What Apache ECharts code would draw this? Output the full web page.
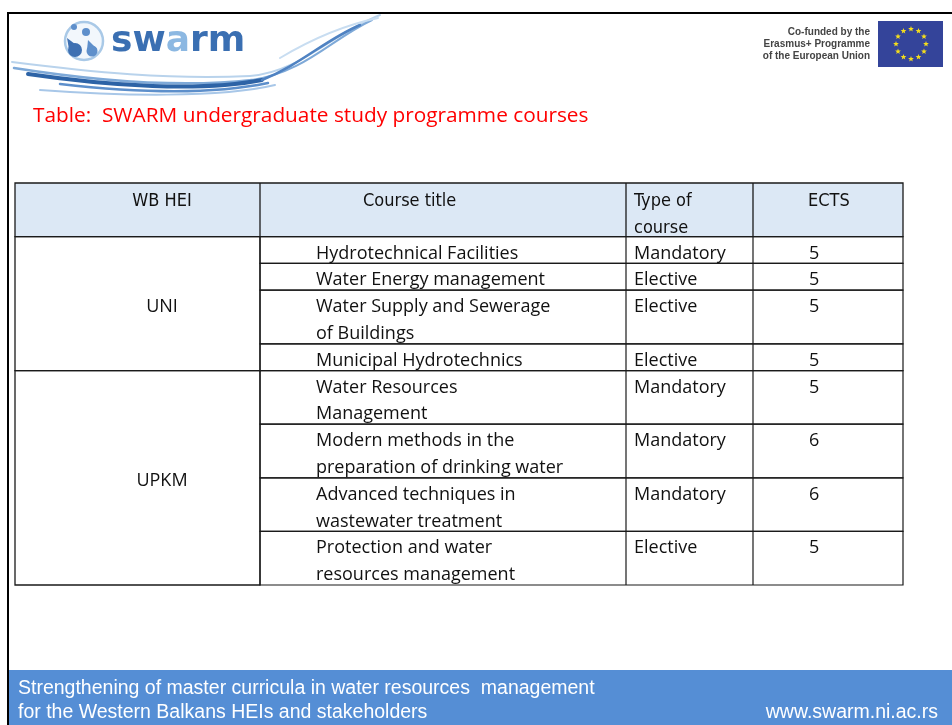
<!DOCTYPE html>
<html><head><meta charset="utf-8">
<script src="https://cdn.jsdelivr.net/npm/echarts@6/dist/echarts.min.js"></script>
<style>html,body{margin:0;padding:0;background:#fff}#c{width:952px;height:725px}</style>
</head><body><div id="c"></div>
<script>
// ---- data ----
const headers = ['WB HEI', 'Course title', 'Type of\ncourse', 'ECTS'];
const heiNames = ['UNI', 'UPKM'];
const courseHei = [0, 0, 0, 0, 1, 1, 1, 1];
const courseTitles = [
  'Hydrotechnical Facilities',
  'Water Energy management',
  'Water Supply and Sewerage\nof Buildings',
  'Municipal Hydrotechnics',
  'Water Resources\nManagement',
  'Modern methods in the\npreparation of drinking water',
  'Advanced techniques in\nwastewater treatment',
  'Protection and water\nresources management'
];
const courseTypes = ['Mandatory', 'Elective', 'Elective', 'Elective', 'Mandatory', 'Mandatory', 'Mandatory', 'Elective'];
const ectsValues = [5, 5, 5, 5, 5, 6, 6, 5];
const titleText = 'Table:  SWARM undergraduate study programme courses';
const footerLines = ['Strengthening of master curricula in water resources  management', 'for the Western Balkans HEIs and stakeholders'];
const footerUrl = 'www.swarm.ni.ac.rs';
const euText = 'Co-funded by the\nErasmus+ Programme\nof the European Union';

// ---- layout ----
const colEdges = [0, 245, 611, 738, 888];
const headTextX = [147, 348, 619, 793];
const bodyTextX = [147, 301, 619, 794];
const headerUnits = 2;
let acc = headerUnits;
const rowData = courseTitles.map((t, i) => {
  const u = t.split('\n').length;
  const r = [acc, acc + u, i];
  acc += u;
  return r;
});
const totalUnits = acc;
const groupData = [];
courseHei.forEach((h, i) => {
  const last = groupData[groupData.length - 1];
  if (last && last[2] === h) last[1] = rowData[i][1];
  else groupData.push([rowData[i][0], rowData[i][1], h]);
});

const LINE = '#1a1a1a';
const BODY_FONT = '18px "Open Sans", "Noto Sans", sans-serif';
const HEAD_FONT = '18px "Liberation Sans Narrow", "DejaVu Sans Condensed", sans-serif';
const FOOT_FONT = '19.5px "Liberation Sans", sans-serif';

function txt(x, y, text, font, align) {
  return { type: 'text', x: x, y: y, style: { text: text, font: font, fill: '#111', align: align || 'left', verticalAlign: 'middle' } };
}

function renderHeader(params, api) {
  const y0 = api.value(0), y1 = api.value(1);
  const tl = api.coord([colEdges[0], y0]), br = api.coord([colEdges[4], y1]);
  const ch = [{ type: 'rect', shape: { x: tl[0], y: tl[1], width: br[0] - tl[0], height: br[1] - tl[1] }, style: { fill: '#dce8f5', stroke: LINE, lineWidth: 1.3 } }];
  for (let c = 1; c < 4; c++) {
    const x = api.coord([colEdges[c], 0])[0];
    ch.push({ type: 'line', shape: { x1: x, y1: tl[1], x2: x, y2: br[1] }, style: { stroke: LINE, lineWidth: 1.3 } });
  }
  headers.forEach((h, c) => {
    h.split('\n').forEach((ln, k) => {
      const p = api.coord([headTextX[c], y0 + k + 0.68]);
      ch.push(txt(p[0], p[1], ln, HEAD_FONT, c === 0 ? 'center' : 'left'));
    });
  });
  return { type: 'group', children: ch };
}

function renderGroup(params, api) {
  const y0 = api.value(0), y1 = api.value(1), g = api.value(2);
  const tl = api.coord([colEdges[0], y0]), br = api.coord([colEdges[1], y1]);
  const mid = api.coord([bodyTextX[0], (y0 + y1) / 2 + 0.11]);
  return { type: 'group', children: [
    { type: 'rect', shape: { x: tl[0], y: tl[1], width: br[0] - tl[0], height: br[1] - tl[1] }, style: { fill: 'none', stroke: LINE, lineWidth: 1.3 } },
    txt(mid[0], mid[1], heiNames[g], BODY_FONT, 'center')
  ] };
}

function renderRow(params, api) {
  const y0 = api.value(0), y1 = api.value(1), i = api.value(2);
  const tl = api.coord([colEdges[1], y0]), br = api.coord([colEdges[4], y1]);
  const ch = [{ type: 'rect', shape: { x: tl[0], y: tl[1], width: br[0] - tl[0], height: br[1] - tl[1] }, style: { fill: 'none', stroke: LINE, lineWidth: 1.2 } }];
  for (let c = 2; c < 4; c++) {
    const x = api.coord([colEdges[c], 0])[0];
    ch.push({ type: 'line', shape: { x1: x, y1: tl[1], x2: x, y2: br[1] }, style: { stroke: LINE, lineWidth: 1.2 } });
  }
  courseTitles[i].split('\n').forEach((ln, k) => {
    const p = api.coord([bodyTextX[1], y0 + k + 0.63]);
    ch.push(txt(p[0], p[1], ln, BODY_FONT));
  });
  const pt = api.coord([bodyTextX[2], y0 + 0.63]);
  ch.push(txt(pt[0], pt[1], courseTypes[i], BODY_FONT));
  const pe = api.coord([bodyTextX[3], y0 + 0.63]);
  ch.push(txt(pe[0], pe[1], String(ectsValues[i]), BODY_FONT));
  return { type: 'group', children: ch };
}

// EU stars
const stars = [];
for (let s = 0; s < 12; s++) {
  const a = s / 12 * Math.PI * 2;
  const cx = 911 + 15 * Math.sin(a), cy = 44 - 15 * Math.cos(a);
  const pts = [];
  for (let k = 0; k < 10; k++) {
    const r = k % 2 === 0 ? 3 : 1.3;
    const b = k / 10 * Math.PI * 2;
    pts.push([cx + r * Math.sin(b), cy - r * Math.cos(b)]);
  }
  stars.push({ type: 'polygon', shape: { points: pts }, style: { fill: '#f4dd1c' } });
}

function bez(x1, y1, c1x, c1y, c2x, c2y, x2, y2, color, w) {
  return { type: 'bezierCurve', shape: { x1: x1, y1: y1, cpx1: c1x, cpy1: c1y, cpx2: c2x, cpy2: c2y, x2: x2, y2: y2 }, style: { stroke: color, lineWidth: w, fill: null, lineCap: 'round' } };
}

const graphics = [
  // slide border
  { type: 'line', shape: { x1: 7, y1: 13, x2: 952, y2: 13 }, style: { stroke: '#000', lineWidth: 2 } },
  { type: 'line', shape: { x1: 8, y1: 12, x2: 8, y2: 725 }, style: { stroke: '#000', lineWidth: 2 } },
  // footer
  { type: 'rect', shape: { x: 9, y: 670, width: 943, height: 55 }, style: { fill: '#558ed5' } },
  { type: 'text', x: 18, y: 689, style: { text: footerLines[0], font: FOOT_FONT, fill: '#fff', align: 'left', verticalAlign: 'middle' } },
  { type: 'text', x: 18, y: 713, style: { text: footerLines[1], font: FOOT_FONT, fill: '#fff', align: 'left', verticalAlign: 'middle' } },
  { type: 'text', x: 938, y: 713, style: { text: footerUrl, font: FOOT_FONT, fill: '#fff', align: 'right', verticalAlign: 'middle' } },
  // title
  { type: 'text', x: 33, y: 116, style: { text: titleText, font: '20.8px "Open Sans", sans-serif', fill: '#ff0000', align: 'left', verticalAlign: 'middle' } },
  // waves
  bez(12, 62, 90, 72, 170, 80, 250, 76, '#b9d3ec', 2),
  bez(250, 76, 300, 72, 330, 35, 380, 15, '#b9d3ec', 2),
  bez(14, 68, 90, 80, 180, 88, 252, 80, '#7ea9d8', 2.5),
  bez(252, 80, 305, 72, 330, 40, 372, 20, '#7ea9d8', 2),
  bez(28, 74, 110, 86, 200, 92, 262, 80, '#2d63a6', 4),
  bez(60, 84, 130, 92, 210, 95, 268, 83, '#5d8fcb', 2.5),
  bez(40, 90, 120, 96, 220, 98, 275, 85, '#a8c7e8', 2),
  bez(262, 80, 300, 65, 325, 40, 360, 25, '#4f82c2', 2.5),
  bez(280, 58, 310, 40, 340, 26, 378, 18, '#c8ddf1', 2),
  // logo ring & drops
  { type: 'circle', shape: { cx: 84, cy: 41, r: 19 }, style: { fill: '#f2f7fc', stroke: '#a9c9e7', lineWidth: 2.5 } },
  { type: 'polygon', shape: { points: [[67, 38], [69, 49], [79, 47]] }, style: { fill: '#3e70b2' } },
  { type: 'circle', shape: { cx: 75, cy: 50, r: 7 }, style: { fill: '#3e70b2' } },
  { type: 'polygon', shape: { points: [[88, 40], [87, 50], [97, 49]] }, style: { fill: '#5e8fcb' } },
  { type: 'circle', shape: { cx: 92, cy: 51, r: 5.5 }, style: { fill: '#5e8fcb' } },
  { type: 'circle', shape: { cx: 86, cy: 32, r: 4 }, style: { fill: '#5e8fcb' } },
  { type: 'circle', shape: { cx: 74, cy: 27, r: 3 }, style: { fill: '#5e8fcb' } },
  { type: 'text', x: 111, y: 42, style: { text: '{d|sw}{l|a}{d|rm}', rich: {
      d: { font: 'bold 36px "DejaVu Sans", sans-serif', fill: '#3a6fb2' },
      l: { font: 'bold 36px "DejaVu Sans", sans-serif', fill: '#8cb8e2' } }, align: 'left', verticalAlign: 'middle' } },
  // EU logo
  { type: 'rect', shape: { x: 878, y: 21, width: 65, height: 46 }, style: { fill: '#34449a' } },
  ...stars,
  { type: 'text', x: 870, y: 44, style: { text: euText, font: 'bold 10px "Liberation Sans", sans-serif', fill: '#444', align: 'right', verticalAlign: 'middle', lineHeight: 12 } }
];

const chart = echarts.init(document.getElementById('c'));
chart.setOption({
  animation: false,
  backgroundColor: '#fff',
  grid: { left: 15, top: 183, width: 888, height: 402 },
  xAxis: { type: 'value', min: 0, max: colEdges[4], show: false },
  yAxis: { type: 'value', min: 0, max: totalUnits, inverse: true, show: false },
  graphic: graphics,
  series: [
    { type: 'custom', renderItem: renderHeader, data: [[0, headerUnits, 0]], encode: { y: [0, 1] }, clip: false, silent: true },
    { type: 'custom', renderItem: renderGroup, data: groupData, encode: { y: [0, 1] }, clip: false, silent: true },
    { type: 'custom', renderItem: renderRow, data: rowData, encode: { y: [0, 1] }, clip: false, silent: true }
  ]
});
</script>
</body></html>
